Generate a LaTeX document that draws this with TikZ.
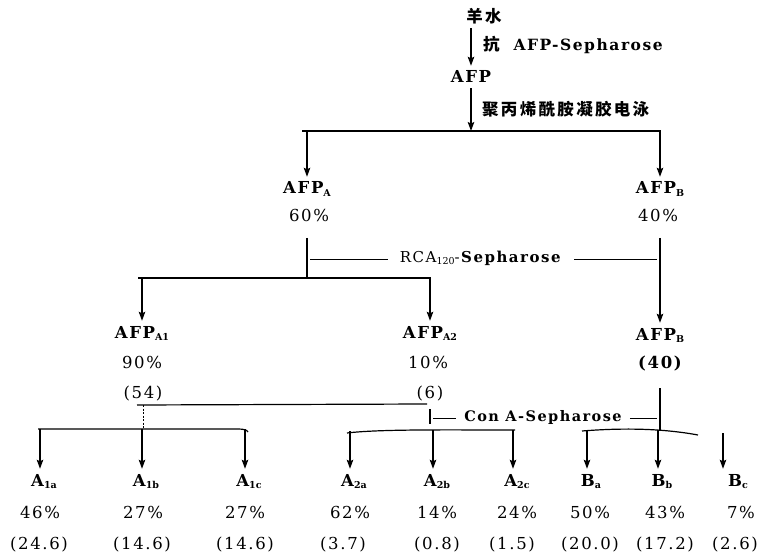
\documentclass[tikz,border=0pt]{standalone}
\usepackage{fontspec}
\setmainfont{DejaVu Serif}[LetterSpace=10]
\newfontfamily\cjk{Noto Sans CJK SC}[LetterSpace=14]
\usetikzlibrary{arrows.meta}
\newcommand\sbs[1]{\raisebox{-2.5pt}{\fontsize{9.5}{9.5}\selectfont\addfontfeature{LetterSpace=0}#1}}
\tikzset{
  lab/.style={font=\fontsize{16.5}{16.5}\selectfont\bfseries, inner xsep=0pt, inner ysep=5pt, anchor=base},
  pct/.style={font=\fontsize{16.5}{16.5}\selectfont, inner sep=0pt, anchor=base},
  cn/.style={font=\fontsize{16.5}{16.5}\selectfont\cjk\bfseries, inner sep=0pt},
  ln/.style={line width=1.2pt},
  arr/.style={line width=1.2pt, -{Stealth[length=9pt,width=6.5pt,inset=1.5pt]}},
}
\begin{document}
\begin{tikzpicture}[x=1pt,y=-1pt]
\useasboundingbox (0,0) rectangle (758,556);
% top
\node[cn] (ys) at (484,16) {羊水};
\node[lab] (afp) at (471,83) {AFP};
\node[anchor=base west, inner sep=0pt, font=\fontsize{15.5}{15.5}\selectfont\bfseries] (l1) at (483,51) {{\cjk\fontsize{16.5}{16.5}\selectfont 抗}\ \ AFP-Sepharose};
\draw[arr] (afp.north |- ys.south) ++(0,4) -- (afp.north);
\node[cn, anchor=west] (l2) at (482,109) {聚丙烯酰胺凝胶电泳};
\coordinate (b1L) at (302,131);
\coordinate (b1R) at (661,131);
\draw[arr] (afp.south) -- (afp.south |- b1L);
\draw[ln] (b1L) -- (b1R);
% level A/B
\node[lab] (afpA) at (307,194) {AFP\sbs{A}};
\node[pct] (pA) at (309,222) {60\%};
\node[lab] (afpB) at (660,194) {AFP\sbs{B}};
\node[pct] (pB) at (658,222) {40\%};
\draw[arr] (afpA.north |- b1L) -- (afpA.north);
\draw[arr] (afpB.north |- b1R) -- (afpB.north);
% RCA
\coordinate (rA) at (307,238);
\coordinate (rB) at (660,238);
\coordinate (b2L) at (138,278);
\coordinate (b2R) at (431,278);
\node[anchor=base, inner xsep=12pt, inner ysep=0pt, font=\fontsize{15}{15}\selectfont] (rca) at (481,262) {RCA\sbs{120}-\textbf{Sepharose}};
\draw[ln] (rA) -- (rA |- b2L);
\draw[ln] ([xshift=3pt]rA |- rca.mid) -- (rca.mid west);
\draw[ln] (rca.mid east) -- ([xshift=-3pt]rB |- rca.mid);
\draw[ln] (b2L) -- (b2R);
% level A1/A2/B
\node[lab] (afpA1) at (142,338) {AFP\sbs{A1}};
\node[pct] (pA1) at (142,368) {90\%};
\node[pct] (nA1) at (143,398) {(54)};
\node[lab] (afpA2) at (430,338) {AFP\sbs{A2}};
\node[pct] (pA2) at (428,368) {10\%};
\node[pct] (nA2) at (430,398) {(6)};
\node[lab] (afpB2) at (660,340) {AFP\sbs{B}};
\node[pct, font=\fontsize{16.5}{16.5}\selectfont\bfseries] (nB2) at (660,368) {(40)};
\draw[arr] (afpA1.north |- b2L) -- (afpA1.north);
\draw[arr] (afpA2.north |- b2R) -- (afpA2.north);
\draw[arr] (rB) -- (afpB2.north);
% Con A
\coordinate (cL) at (137,405);
\coordinate (cR) at (427,404);
\coordinate (tk) at (430,409);
\coordinate (cB) at (660,388);
\draw[ln] (cL) -- (cR);
\draw[line width=0.8pt, dash pattern=on 2pt off 1.5pt] (143,405) -- (143,429);
\node[anchor=base, inner xsep=8pt, inner ysep=0pt, font=\fontsize{14.5}{14.5}\selectfont\bfseries] (cona) at (543,421) {Con A-Sepharose};
\draw[ln] (tk) -- ++(0,15);
\draw[ln] ([xshift=3pt]tk |- cona.mid) -- (cona.mid west);
\draw[ln] (cona.mid east) -- ([xshift=-3pt]cB |- cona.mid);
\draw[ln] (cB) -- (660,430);
% bottom bars
\draw[ln] (38,429) -- (238,429) .. controls (244,429) and (247,430) .. (248,432);
\draw[ln] (347,433) .. controls (380,429) and (450,430) .. (515,430);
\draw[ln] (582,431) .. controls (620,428) and (660,428) .. (698,435);
% leaves
\foreach \nm/\x/\t/\p/\px/\n/\nx/\by in {
  a1a/40/A\sbs{1a}/46\%/40/(24.6)/39/429,
  a1b/142/A\sbs{1b}/27\%/143/(14.6)/142/429,
  a1c/245/A\sbs{1c}/27\%/245/(14.6)/245/429,
  a2a/350/A\sbs{2a}/62\%/350/(3.7)/343/431,
  a2b/433/A\sbs{2b}/14\%/437/(0.8)/437/430,
  a2c/513/A\sbs{2c}/24\%/517/(1.5)/512/430,
  ba/587/B\sbs{a}/50\%/590/(20.0)/590/430,
  bb/658/B\sbs{b}/43\%/665/(17.2)/665/430}{
  \node[lab] (\nm) at (\x+4,486) {\t};
  \node[pct] (\nm p) at (\px,518) {\p};
  \node[pct] (\nm n) at (\nx,549) {\n};
  \draw[arr] ([xshift=-4pt]\nm.north |- 0,\by) -- ([xshift=-4pt]\nm.north);
}
\node[lab] (bc) at (738,486) {B\sbs{c}};
\node[pct] (bcp) at (741,518) {7\%};
\node[pct] (bcn) at (735,549) {(2.6)};
\coordinate (bcx) at (723,433);
\draw[arr] (bcx) -- (bcx |- bc.north);
\end{tikzpicture}
\end{document}
